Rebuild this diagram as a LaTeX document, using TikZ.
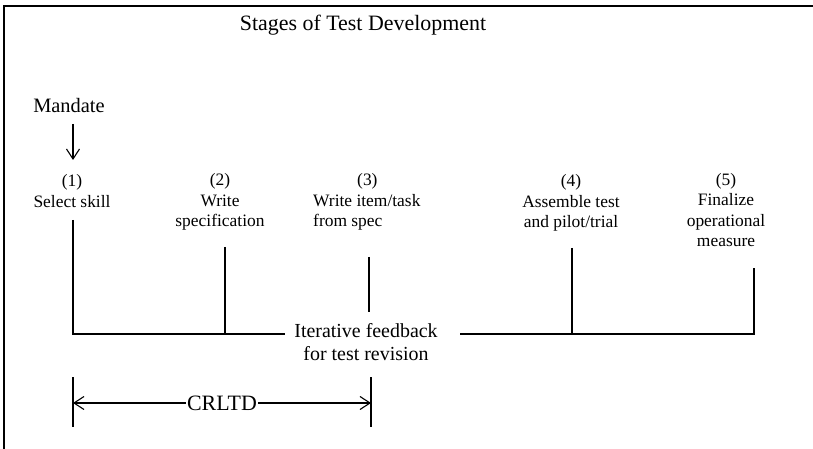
\documentclass[tikz,border=0pt]{standalone}
\usepackage{fontspec}
\setmainfont{Liberation Serif}
\usetikzlibrary{arrows.meta}
\begin{document}
\begin{tikzpicture}[x=1bp,y=-1bp,
  lbl/.style={inner sep=0pt,align=center,font=\fontsize{17.5}{20.5}\selectfont},
  big/.style={inner sep=0pt,align=center,font=\fontsize{20.5}{23}\selectfont},
  rule/.style={line width=1.2bp,black},
  barb/.style={-{Straight Barb[length=10bp,width=13bp,line width=1.1bp]}}]
\useasboundingbox (0,0) rectangle (813,449);
% frame: top and left edges only
\draw[rule] (4,449) -- (4,6) -- (813,6);
% title
\node[big,font=\fontsize{22}{25}\selectfont] (title) at (363,25) {Stages of Test Development};
% mandate entering stage 1
\node[big] (mandate) at (69,106) {Mandate};
\coordinate (mtop) at (73,124);
\coordinate (mtip) at (73,160);
\draw[rule,barb] (mtop) -- (mtip);
% stage labels
\node[lbl] (s1) at (72,191) {(1)\\Select skill};
\node[lbl] (s2) at (220,202) {(2)\\Write\\specification};
\node[lbl,align=left,anchor=west] (s3) at (313,202) {\hspace*{44bp}(3)\\Write item/task\\from spec};
\node[lbl] (s4) at (571,203) {(4)\\Assemble test\\and pilot/trial};
\node[lbl] (s5) at (726,210) {(5)\\Finalize\\operational\\measure};
% feedback label on the common line
\node[big,font=\fontsize{20}{23}\selectfont] (fb) at (366,342) {Iterative feedback\\for test revision};
% tops and feet of the stage rules
\coordinate (t1) at (73,220);  \coordinate (b1) at (73,334);
\coordinate (t2) at (225,247); \coordinate (b2) at (225,334);
\coordinate (t3) at (369,257); \coordinate (b3) at (369,312);
\coordinate (t4) at (572,248); \coordinate (b4) at (572,334);
\coordinate (t5) at (754,268); \coordinate (b5) at (754,334);
\coordinate (gl) at (285,334); \coordinate (gr) at (460,334);
\draw[rule] (t1) -- (b1) -- (gl);
\draw[rule] (t2) -- (b2);
\draw[rule] (t3) -- (b3);
\draw[rule] (gr) -- (b5) -- (t5);
\draw[rule] (t4) -- (b4);
% CRLTD span from stage 1 to stage 3
\coordinate (c1t) at (73,377); \coordinate (c1b) at (73,427);
\coordinate (c3t) at (371,377); \coordinate (c3b) at (371,427);
\coordinate (c1) at (73,403); \coordinate (c3) at (371,403);
\draw[rule] (c1t) -- (c1b);
\draw[rule] (c3t) -- (c3b);
\node[big,font=\fontsize{22}{25}\selectfont,inner xsep=1bp] (crltd) at (222,403) {CRLTD};
\draw[rule,barb] (crltd.west) -- (c1);
\draw[rule,barb] (crltd.east) -- (c3);
\end{tikzpicture}
\end{document}
